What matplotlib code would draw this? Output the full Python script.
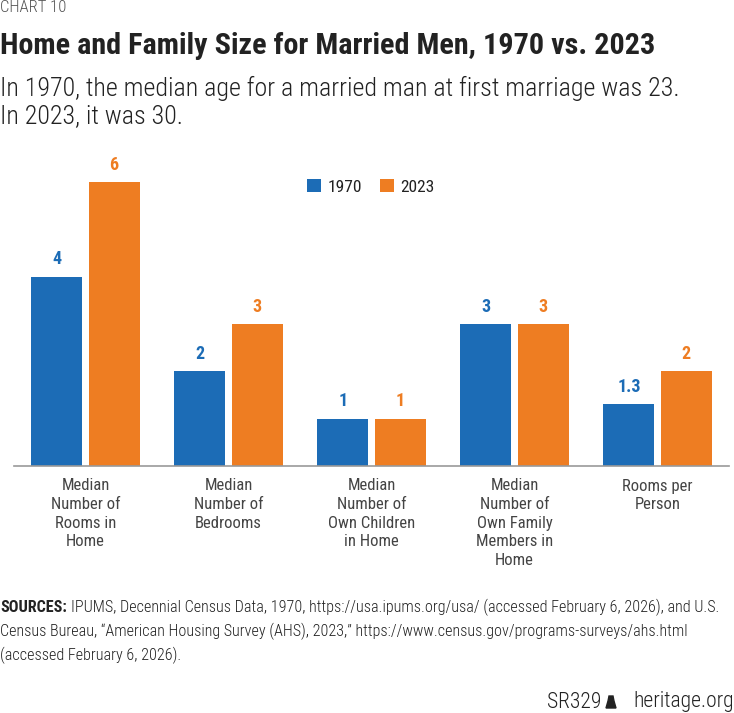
import matplotlib
matplotlib.use("Agg")
import matplotlib.pyplot as plt
from matplotlib import font_manager
import numpy as np

# ── data ──
categories = [
    "Median\nNumber of\nRooms in\nHome",
    "Median\nNumber of\nBedrooms",
    "Median\nNumber of\nOwn Children\nin Home",
    "Median\nNumber of\nOwn Family\nMembers in\nHome",
    "Rooms per\nPerson",
]
series_names = ["1970", "2023"]
values_1970 = [4, 2, 1, 3, 1.3]
values_2023 = [6, 3, 1, 3, 2]
labels_1970 = ["4", "2", "1", "3", "1.3"]
labels_2023 = ["6", "3", "1", "3", "2"]


def pick_font(names):
    for n in names:
        try:
            font_manager.findfont(n, fallback_to_default=False)
            return n
        except Exception:
            continue
    return "DejaVu Sans"


narrow = pick_font(["Roboto Condensed", "Liberation Sans Narrow", "Roboto"])
plt.rcParams["font.family"] = [narrow, "DejaVu Sans"]

BLUE = "#1c6cb6"
ORANGE = "#ee7d22"
TXT = "#222222"
GRAY = "#444444"

W, H = 734, 713
fig = plt.figure(figsize=(W / 100, H / 100), dpi=100)
fig.patch.set_facecolor("white")


def fy(y):
    return 1 - y / H


def fx(x):
    return x / W


# ── header ──
fig.text(fx(0), fy(7), "CHART 10", fontsize=12, fontweight="light", color="#555555",
         va="center", ha="left")
fig.text(fx(0), fy(46), "Home and Family Size for Married Men, 1970 vs. 2023",
         fontsize=21.7, fontweight="bold", color=TXT, va="center", ha="left")
fig.text(fx(0), fy(88), "In 1970, the median age for a married man at first marriage was 23.",
         fontsize=18.7, fontweight="light", color=TXT, va="center", ha="left")
fig.text(fx(0), fy(116), "In 2023, it was 30.",
         fontsize=18.7, fontweight="light", color=TXT, va="center", ha="left")

# ── bars ──
ax_left, ax_right = 14, 729
ax_top, ax_bot = 170, 466
ax = fig.add_axes([fx(ax_left), fy(ax_bot), (ax_right - ax_left) / W, (ax_bot - ax_top) / H])
x = np.arange(len(categories))
bw = 0.357
off = 0.2
b1 = ax.bar(x - off, values_1970, bw, color=BLUE, label=series_names[0], zorder=2)
b2 = ax.bar(x + off, values_2023, bw, color=ORANGE, label=series_names[1], zorder=2)
ax.set_xlim(-0.5, 4.5)
ax.set_ylim(0, 6.25)
for s in ["top", "right", "left"]:
    ax.spines[s].set_visible(False)
ax.spines["bottom"].set_color("#999999")
ax.spines["bottom"].set_linewidth(1.2)
ax.set_yticks([])
ax.set_xticks(x)
ax.set_xticklabels(categories, fontsize=12, color=GRAY, linespacing=1.3, va="top")
ax.tick_params(axis="x", length=0, pad=9)

for rect, lab in zip(b1, labels_1970):
    ax.annotate(lab, (rect.get_x() + rect.get_width() / 2, rect.get_height()),
                xytext=(0, 6), textcoords="offset points", ha="center", va="bottom",
                fontsize=13, fontweight="bold", color=BLUE)
for rect, lab in zip(b2, labels_2023):
    ax.annotate(lab, (rect.get_x() + rect.get_width() / 2, rect.get_height()),
                xytext=(0, 6), textcoords="offset points", ha="center", va="bottom",
                fontsize=13, fontweight="bold", color=ORANGE)

leg = fig.legend(handles=[b1, b2], labels=series_names, loc="center",
                 bbox_to_anchor=(fx(371), fy(187)), ncol=2, frameon=False,
                 fontsize=12.5, handlelength=0.8, handleheight=0.8,
                 handletextpad=0.4, columnspacing=1.0, borderaxespad=0)
for t in leg.get_texts():
    t.set_color(TXT)

# ── sources ──
src_size = 11.6
t0 = fig.text(fx(0), fy(607), "SOURCES:", fontsize=src_size, fontweight="bold", color=TXT,
              va="center", ha="left")
fig.canvas.draw()
bb = t0.get_window_extent()
fig.text(fx(bb.x1 + 4), fy(607),
         "IPUMS, Decennial Census Data, 1970, https://usa.ipums.org/usa/ "
         "(accessed February 6, 2026), and U.S.",
         fontsize=src_size, fontweight="light", color=TXT, va="center", ha="left")
fig.text(fx(0), fy(631),
         "Census Bureau, \u201cAmerican Housing Survey (AHS), 2023,\u201d "
         "https://www.census.gov/programs-surveys/ahs.html",
         fontsize=src_size, fontweight="light", color=TXT, va="center", ha="left")
fig.text(fx(0), fy(655), "(accessed February 6, 2026).",
         fontsize=src_size, fontweight="light", color=TXT, va="center", ha="left")

# ── footer ──
fig.text(fx(734), fy(702), "heritage.org", fontsize=15.5, fontweight="light", color=TXT,
         va="center", ha="right")
fig.text(fx(601), fy(702), "SR329", fontsize=15.5, fontweight="light", color=TXT,
         va="center", ha="right")
# small bell mark
bx, by = 611, 702
bell = plt.Polygon([(fx(bx - 5), fy(by + 6)), (fx(bx + 5), fy(by + 6)), (fx(bx + 3), fy(by - 1)),
                    (fx(bx + 2), fy(by - 6)), (fx(bx - 2), fy(by - 6)), (fx(bx - 3), fy(by - 1))],
                   closed=True, transform=fig.transFigure, color=TXT)
fig.patches.append(bell)

fig.savefig("out.png", dpi=100, facecolor="white")
